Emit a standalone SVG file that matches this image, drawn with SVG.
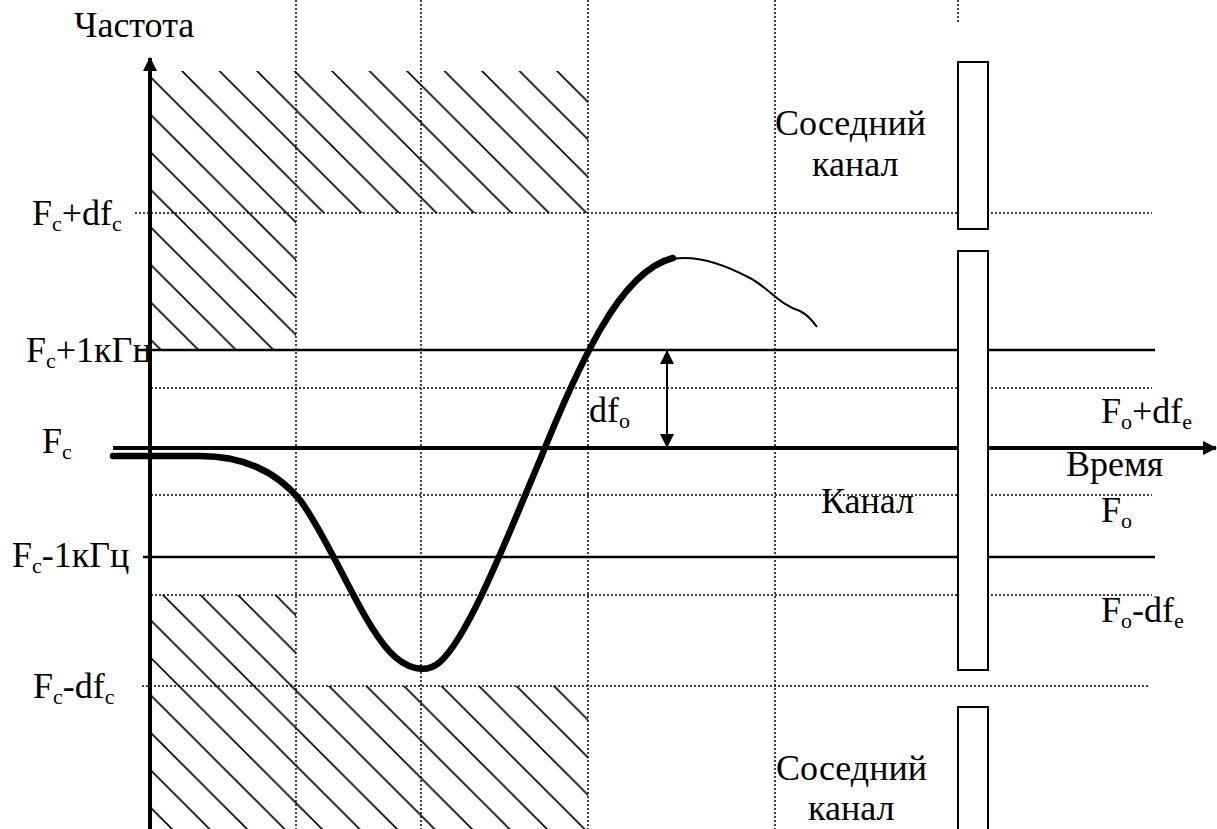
<svg xmlns="http://www.w3.org/2000/svg" width="1217" height="829" viewBox="0 0 1217 829">
<style>
text{font-family:"Liberation Serif","Times New Roman",serif;font-size:36px;fill:#000}
.sub{font-size:22px}
.dot{stroke:#000;stroke-width:1.5;stroke-dasharray:2 2;fill:none}
.sol{stroke:#000;stroke-width:2.5;fill:none}
.box{fill:#fff;stroke:#000;stroke-width:2}
</style>
<defs>
<pattern id="hatchTop" patternUnits="userSpaceOnUse" x="36" y="0" width="37.5" height="37.5">
<path d="M0,0 L37.5,37.5 M-5,32.5 L5,42.5 M32.5,-5 L42.5,5" stroke="#000" stroke-width="1.6"/>
</pattern>
<pattern id="hatchBot" patternUnits="userSpaceOnUse" x="18" y="0" width="37.5" height="37.5">
<path d="M0,0 L37.5,37.5 M-5,32.5 L5,42.5 M32.5,-5 L42.5,5" stroke="#000" stroke-width="1.6"/>
</pattern>
<marker id="arrV" viewBox="0 0 14 14" refX="13" refY="7" markerWidth="14" markerHeight="14" markerUnits="userSpaceOnUse" orient="auto-start-reverse">
<path d="M0,0 L14,7 L0,14 Z" fill="#000"/>
</marker>
</defs>

<g id="hatch-top">
<path d="M151,71 H588 V213 H296 V350 H151 Z" fill="url(#hatchTop)"/>
</g>
<g id="hatch-bottom">
<path d="M151,595 H296 V686 H588 V829 H151 Z" fill="url(#hatchBot)"/>
</g>

<g id="grid">
<line class="dot" x1="296" y1="0" x2="296" y2="829"/>
<line class="dot" x1="421" y1="0" x2="421" y2="829"/>
<line class="dot" x1="588" y1="0" x2="588" y2="829"/>
<line class="dot" x1="775" y1="0" x2="775" y2="829"/>
<line class="dot" x1="958" y1="0" x2="958" y2="24"/>
<line class="dot" x1="135" y1="213" x2="1152" y2="213"/>
<line class="dot" x1="151" y1="388" x2="1152" y2="388"/>
<line class="dot" x1="151" y1="495" x2="1152" y2="495"/>
<line class="dot" x1="151" y1="595" x2="1152" y2="595"/>
<line class="dot" x1="142" y1="686" x2="1150" y2="686"/>
<line class="sol" x1="136" y1="350" x2="1155" y2="350"/>
<line class="sol" x1="143" y1="557" x2="1155" y2="557"/>
</g>

<g id="channels">
<rect id="adj-top" class="box" x="958" y="62" width="30" height="167"/>
<rect id="channel" class="box" x="958" y="251" width="30" height="419"/>
<rect id="adj-bottom" class="box" x="958" y="707" width="30" height="130"/>
</g>

<g id="connectors">
<line id="axis-time" x1="113" y1="448" x2="958" y2="448" stroke="#000" stroke-width="4"/>
<line x1="988" y1="448" x2="1216" y2="448" stroke="#000" stroke-width="4" marker-end="url(#arrV)"/>
<line id="axis-freq" x1="150" y1="829" x2="150" y2="58" stroke="#000" stroke-width="4" marker-end="url(#arrV)"/>
<line id="df-arrow" x1="667" y1="351" x2="667" y2="447" stroke="#000" stroke-width="2" marker-start="url(#arrV)" marker-end="url(#arrV)"/>
</g>

<g id="curve">
<path d="M113,456 L200,456 C240,456 275,470 300,500 C330,540 360,620 390,652 C405,668 425,675 440,662 C470,635 510,530 540,460 C560,410 580,365 600,330 C620,295 645,265 673,258" fill="none" stroke="#000" stroke-width="6.5" stroke-linecap="round" stroke-linejoin="round"/>
<path d="M667,260 C690,254 720,262 750,278 C770,289 780,305 800,311 C808,315 812,320 817,327" fill="none" stroke="#000" stroke-width="2"/>
</g>

<g id="labels">
<text x="74" y="37">Частота</text>
<text x="32" y="225">F<tspan class="sub" dy="6">c</tspan><tspan dy="-6">+df</tspan><tspan class="sub" dy="6">c</tspan></text>
<text x="26" y="362">F<tspan class="sub" dy="6">c</tspan><tspan dy="-6">+1кГц</tspan></text>
<text x="42" y="453">F<tspan class="sub" dy="6">c</tspan></text>
<text x="12" y="567">F<tspan class="sub" dy="6">c</tspan><tspan dy="-6">-1кГц</tspan></text>
<text x="33" y="698">F<tspan class="sub" dy="6">c</tspan><tspan dy="-6">-df</tspan><tspan class="sub" dy="6">c</tspan></text>
<text x="589" y="422">df<tspan class="sub" dy="6">o</tspan></text>
<text x="1101" y="423">F<tspan class="sub" dy="6">o</tspan><tspan dy="-6">+df</tspan><tspan class="sub" dy="6">e</tspan></text>
<text x="1066" y="476">Время</text>
<text x="1101" y="522">F<tspan class="sub" dy="6">o</tspan></text>
<text x="1101" y="622">F<tspan class="sub" dy="6">o</tspan><tspan dy="-6">-df</tspan><tspan class="sub" dy="6">e</tspan></text>
<text x="821" y="513">Канал</text>
<text x="775" y="135">Соседний</text>
<text x="812" y="176">канал</text>
<text x="776" y="780">Соседний</text>
<text x="808" y="820">канал</text>
</g>
</svg>
